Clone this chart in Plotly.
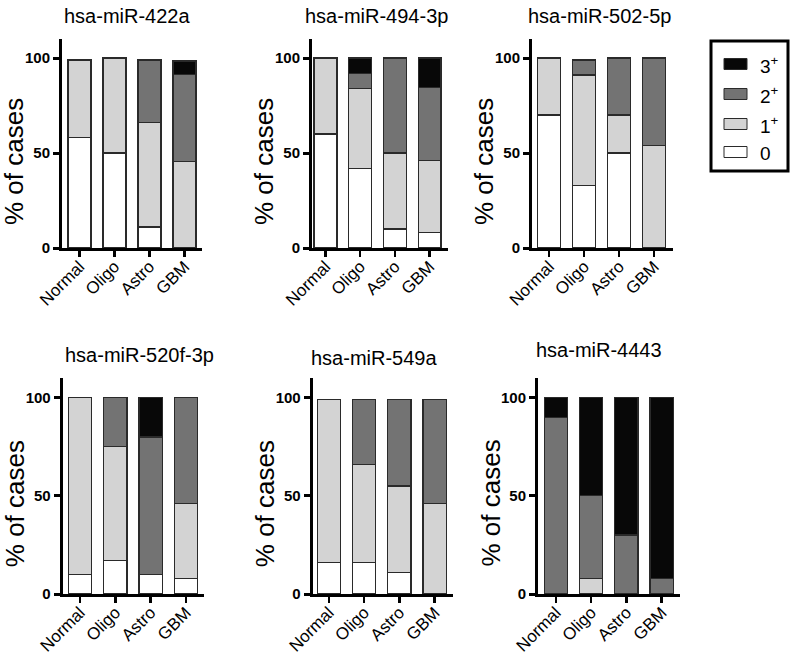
import plotly.graph_objects as go

W, H = 790, 656

categories = ["Normal", "Oligo", "Astro", "GBM"]
levels = ["0", "1+", "2+", "3+"]
legend_labels = ["0", "1<sup>+</sup>", "2<sup>+</sup>", "3<sup>+</sup>"]
titles = ["hsa-miR-422a", "hsa-miR-494-3p", "hsa-miR-502-5p",
          "hsa-miR-520f-3p", "hsa-miR-549a", "hsa-miR-4443"]

# rows = levels (0, 1+, 2+, 3+), columns = categories
v_422a = [[58, 50, 11, 0], [41, 50, 55, 45.5], [0, 0, 33, 46], [0, 0, 0, 7]]
v_494_3p = [[60, 42, 10, 8], [40, 42, 40, 38], [0, 8, 50, 38.5], [0, 8, 0, 15.5]]
v_502_5p = [[70, 33, 50, 0], [30, 58, 20, 54], [0, 8, 30, 46], [0, 0, 0, 0]]
v_520f_3p = [[10, 17, 10, 8], [90, 58, 0, 38], [0, 25, 70, 54], [0, 0, 20, 0]]
v_549a = [[16, 16, 11, 0], [83, 50, 44, 46], [0, 33, 44, 53], [0, 0, 0, 0]]
v_4443 = [[0, 0, 0, 0], [0, 8, 0, 0], [90, 42, 30, 8], [10, 50, 70, 92]]
panels = [v_422a, v_494_3p, v_502_5p, v_520f_3p, v_549a, v_4443]

colors = ["#ffffff", "#d3d3d3", "#737373", "#080808"]
FONT = "Liberation Sans, Arial, sans-serif"


def fx(px):
    return px / W


def fy(py):
    return 1 - py / H


# pixel layout of each panel: x of y-axis, x end, y of zero, y of top, x range
geo = [
    (62, 202, 248, 39, [-0.5, 3.5]),
    (312, 448, 248, 39, [-0.39, 3.53]),
    (532, 673, 248, 39, [-0.49, 3.54]),
    (62.7, 204, 594, 378, [-0.49, 3.51]),
    (312.7, 453, 594, 378, [-0.46, 3.52]),
    (538, 680, 594, 378, [-0.51, 3.52]),
]
title_pos = [(127, 16), (376.5, 16), (599, 16), (139, 355), (374, 358), (599, 350)]

fig = go.Figure()
layout = dict(
    template="none",
    width=W, height=H, margin=dict(l=0, r=0, t=0, b=0, autoexpand=False),
    paper_bgcolor="white", plot_bgcolor="white",
    barmode="stack", showlegend=False,
    font=dict(family=FONT, color="black"),
)
annotations = []
shapes = []

for i, vals in enumerate(panels):
    n = i + 1
    xa = "x" if n == 1 else f"x{n}"
    ya = "y" if n == 1 else f"y{n}"
    for li, lv in enumerate(levels):
        fig.add_trace(go.Bar(
            x=categories, y=vals[li], name=lv, xaxis=xa, yaxis=ya,
            marker=dict(color=colors[li], line=dict(color="#2a2a2a", width=1.3)),
            width=0.66,
        ))
    x0, x1, yb, yt, xr = geo[i]
    layout[f"xaxis{'' if n == 1 else n}"] = dict(
        domain=[fx(x0), fx(x1)], anchor=ya, range=xr, automargin=False,
        showline=True, linecolor="black", linewidth=3,
        ticks="outside", ticklen=6, tickwidth=2.5, tickcolor="black",
        tickangle=-45, tickfont=dict(size=17, family=FONT, color="black"),
        ticklabelstandoff=-7,
        showgrid=False, zeroline=False, fixedrange=True,
    )
    layout[f"yaxis{'' if n == 1 else n}"] = dict(
        domain=[fy(yb), fy(yt)], anchor=xa, range=[0, 110], automargin=False,
        tickvals=[0, 50, 100], showline=True, linecolor="black", linewidth=3,
        ticks="outside", ticklen=6, tickwidth=3, tickcolor="black",
        tickfont=dict(size=15, family=FONT, weight="bold", color="black"),
        showgrid=False, zeroline=False, fixedrange=True,
    )
    tx, ty = title_pos[i]
    annotations.append(dict(
        text=titles[i], x=fx(tx), y=fy(ty), xref="paper", yref="paper",
        xanchor="center", yanchor="middle", showarrow=False, borderpad=0,
        font=dict(size=20, family=FONT),
    ))
    ymid = 162 if yb < 300 else 503.5
    annotations.append(dict(
        text="% of cases", x=fx(x0 - 48), y=fy(ymid), xref="paper", yref="paper",
        xanchor="center", yanchor="middle", textangle=-90, showarrow=False, borderpad=0,
        font=dict(size=26, family=FONT),
    ))

# legend box
shapes.append(dict(type="rect", xref="paper", yref="paper",
                   x0=fx(711), x1=fx(788), y0=fy(171), y1=fy(41),
                   line=dict(color="black", width=3), fillcolor="white"))
legend_rows = [(3, 64), (2, 94), (1, 124), (0, 152)]
for li, cy in legend_rows:
    shapes.append(dict(type="rect", xref="paper", yref="paper",
                       x0=fx(724), x1=fx(747), y0=fy(cy + 5.5), y1=fy(cy - 5.5),
                       line=dict(color="#2a2a2a", width=1), fillcolor=colors[li]))
    annotations.append(dict(
        text=legend_labels[li], x=fx(758), y=fy(cy + 1), xref="paper", yref="paper",
        xanchor="left", yanchor="middle", showarrow=False,
        font=dict(size=19, family=FONT),
    ))

layout["annotations"] = annotations
layout["shapes"] = shapes
fig.update_layout(**layout)
# remove the browser's default page margin so the figure fills the window
fig.write_html("out.html", config={"displayModeBar": False, "staticPlot": True},
               post_script="document.body.style.margin='0px';")
